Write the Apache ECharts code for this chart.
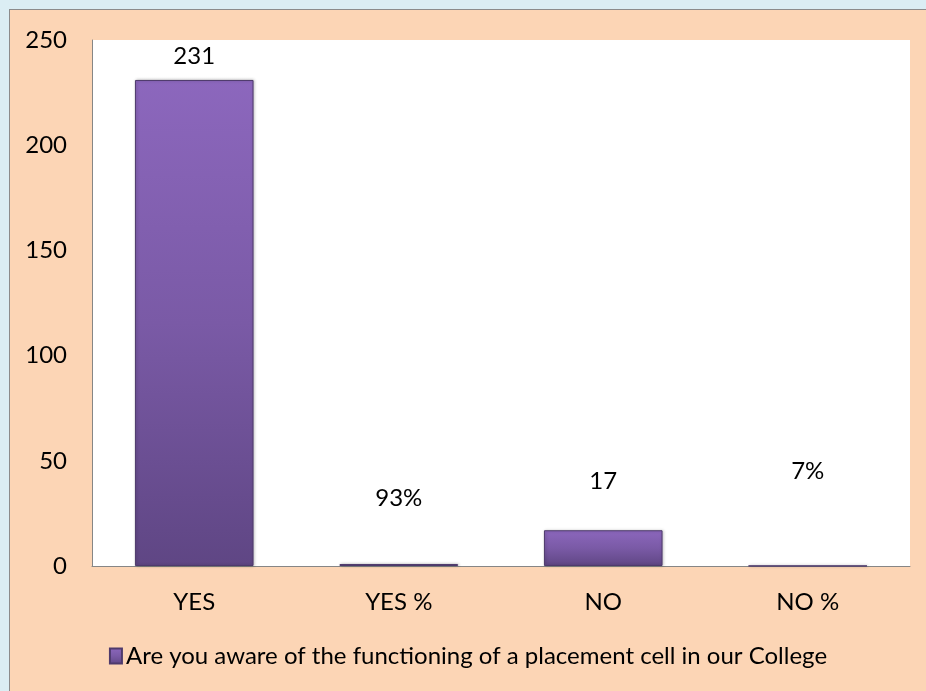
<!DOCTYPE html>
<html>
<head>
<meta charset="utf-8">
<script src="https://cdn.jsdelivr.net/npm/echarts@6/dist/echarts.min.js"></script>
<style>
  html, body { margin: 0; padding: 0; background: #dbeef4; }
  #frame {
    position: absolute; left: 9px; top: 9px; width: 916px; height: 681px;
    background: #fcd5b5; border-top: 1px solid #8c8c8c; border-left: 1px solid #8c8c8c;
  }
  #chart { width: 916px; height: 681px; }
</style>
</head>
<body>
<div id="frame"><div id="chart"></div></div>
<script>
const categories = ["YES", "YES %", "NO", "NO %"];
const counts = [231, 0.93, 17, 0.07];
const seriesName = "Are you aware of the functioning of a placement cell in our College";
const yTicks = { min: 0, max: 250, interval: 50 };
// Excel had the data labels dragged around by hand; offsets mimic that
const labelOffsets = [-7, -49, -32, -77];

const chart = echarts.init(document.getElementById("chart"));

const barColor = new echarts.graphic.LinearGradient(0, 0, 0, 1, [
  { offset: 0, color: "#8c67bd" },
  { offset: 0.5, color: "#7a5aa6" },
  { offset: 1, color: "#5f4684" },
]);

chart.setOption({
  backgroundColor: "transparent",
  textStyle: { fontFamily: "Lato" },
  grid: {
    left: 82, top: 30, right: 16, bottom: 125,
    show: true, backgroundColor: "#ffffff", borderWidth: 0,
  },
  xAxis: {
    type: "category",
    data: categories,
    axisTick: { show: false },
    axisLine: { lineStyle: { color: "#868686", width: 1 } },
    axisLabel: { color: "#000", fontSize: 24, margin: 24 },
  },
  yAxis: {
    type: "value",
    min: yTicks.min,
    max: yTicks.max,
    interval: yTicks.interval,
    splitLine: { show: false },
    axisTick: { show: false },
    axisLine: { show: true, lineStyle: { color: "#868686", width: 1 } },
    axisLabel: { color: "#000", fontSize: 24, margin: 25 },
  },
  legend: {
    top: 629,
    left: "center",
    itemWidth: 12,
    itemHeight: 15,
    itemGap: 4,
    icon: "rect",
    textStyle: { color: "#000", fontSize: 24, padding: [0, 0, 0, -1] },
    data: [seriesName],
  },
  series: [
    {
      name: seriesName,
      type: "bar",
      barWidth: "58%",
      data: counts.map((v, i) => ({
        value: v,
        label: { offset: [0, labelOffsets[i]] },
      })),
      itemStyle: {
        color: barColor,
        borderColor: "#4e3a6c",
        borderWidth: 1,
        shadowBlur: 3,
        shadowColor: "rgba(0,0,0,0.25)",
        shadowOffsetX: 1,
      },
      label: {
        show: true,
        position: "top",
        color: "#000",
        fontSize: 24,
        formatter: (p) =>
          categories[p.dataIndex].includes("%")
            ? Math.round(p.value * 100) + "%"
            : String(p.value),
      },
    },
  ],
});
</script>
</body>
</html>
